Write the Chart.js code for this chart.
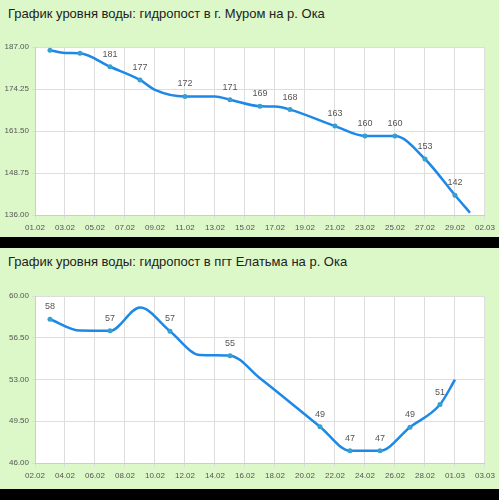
<!DOCTYPE html>
<html><head><meta charset="utf-8">
<script src="https://cdn.jsdelivr.net/npm/chart.js@4"></script>
<style>
body{margin:0;background:#000;width:499px;height:500px;position:relative;overflow:hidden;font-family:Arial,"Liberation Sans",sans-serif}
.p{position:absolute;left:0;width:499px;background:#dcf8c8}
.t{position:absolute;left:8px;top:6px;font-size:13px;color:#222}
canvas{position:absolute;left:0;top:0}
</style></head><body>
<div class="p" id="p1" style="top:0;height:237px"><div class="t">График уровня воды: гидропост в г. Муром на р. Ока</div><canvas id="c1"></canvas></div>
<div class="p" id="p2" style="top:248px;height:241px"><div class="t">График уровня воды: гидропост в пгт Елатьма на р. Ока</div><canvas id="c2"></canvas></div>
<script>
// Day numbers: 1 = 01.02, 30 = 01.03
const muromDays   = [2, 3, 4, 6, 8, 9, 11, 13, 14, 16, 17, 18, 21, 23, 25, 27, 29, 30];
const muromLevels = [186, 185.2, 185.1, 181, 177, 174, 172, 172, 171, 169, 168.9, 168, 163, 160, 160, 153, 142, 136.7];
const muromLabels = ['', '', '', '181', '177', '', '172', '', '171', '169', '', '168', '163', '160', '160', '153', '142', ''];
const muromMarked = [1, 0, 1, 1, 1, 0, 1, 0, 1, 1, 0, 1, 1, 1, 1, 1, 1, 0];
const muromTicks  = {min: 136, max: 187, step: 12.75};

const elatmaDays   = [3, 5, 7, 9, 11, 13, 15, 17, 21, 23, 25, 27, 29, 30];
const elatmaLevels = [58.05, 57.1, 57.08, 59.03, 57.05, 55.05, 55, 53.1, 49.04, 47.03, 47.03, 49.0, 50.9, 52.98];
const elatmaLabels = ['58', '', '57', '', '57', '', '55', '', '49', '47', '47', '49', '51', ''];
const elatmaMarked = [1, 0, 1, 0, 1, 0, 1, 0, 1, 1, 1, 1, 1, 0];
const elatmaTicks  = {min: 46, max: 60, step: 3.5};

function fmtDay(d){const pad=n=>(n<10?'0':'')+n;return d<=29?pad(d)+'.02':pad(d-29)+'.03';}

const bgPlugin={id:'bg',beforeDraw(c){const a=c.chartArea,x=c.ctx;x.save();x.fillStyle='#fff';x.fillRect(a.left,a.top,a.right-a.left,a.bottom-a.top);x.restore();}};
const lblPlugin={id:'lbl',afterDatasetsDraw(c){const ds=c.data.datasets[0],m=c.getDatasetMeta(0),x=c.ctx;x.save();x.font='9px Arial';x.fillStyle='#555';x.textAlign='center';x.textBaseline='bottom';
 m.data.forEach((p,i)=>{const l=ds.labels[i];if(l)x.fillText(l,p.x,p.y-8);});x.restore();}};

function make(id,w,h,padTop,xH,days,vals,labels,marked,yt,xmin,xmax){
 const cv=document.getElementById(id);cv.width=w;cv.height=h;cv.style.width=w+'px';cv.style.height=h+'px';
 new Chart(cv,{type:'line',
  data:{datasets:[{data:days.map((d,i)=>({x:d,y:vals[i]})),labels:labels,
   borderColor:'#1e88e8',borderWidth:2.5,cubicInterpolationMode:'monotone',
   pointRadius:marked.map(m=>m?2.5:0),pointBorderWidth:0,
   pointBackgroundColor:'#35a0cf',pointBorderColor:'#35a0cf'}]},
  options:{responsive:false,animation:false,devicePixelRatio:1,
   layout:{padding:{top:padTop,right:11,bottom:0,left:0}},
   plugins:{legend:{display:false},tooltip:{enabled:false}},
   scales:{
    x:{type:'linear',min:xmin,max:xmax,afterFit(s){s.height=xH;},
     ticks:{stepSize:2,color:'#555',font:{size:8},maxRotation:0,callback:v=>fmtDay(v),padding:4},
     grid:{color:'#ddd',tickLength:4},border:{color:'#ccc'}},
    y:{min:yt.min,max:yt.max,afterFit(s){s.width=35;},
     afterBuildTicks(s){s.ticks=[];for(let v=yt.min;v<=yt.max+1e-9;v+=yt.step)s.ticks.push({value:v});},
     ticks:{color:'#555',font:{size:8},callback:v=>v.toFixed(2),padding:3},
     grid:{color:'#ddd',tickLength:3},border:{color:'#ccc'}}}},
  plugins:[bgPlugin,lblPlugin]});
}
make('c1',499,237,47,22,muromDays,muromLevels,muromLabels,muromMarked,muromTicks,1,31);
make('c2',499,241,48,26,elatmaDays,elatmaLevels,elatmaLabels,elatmaMarked,elatmaTicks,2,32);
</script></body></html>
